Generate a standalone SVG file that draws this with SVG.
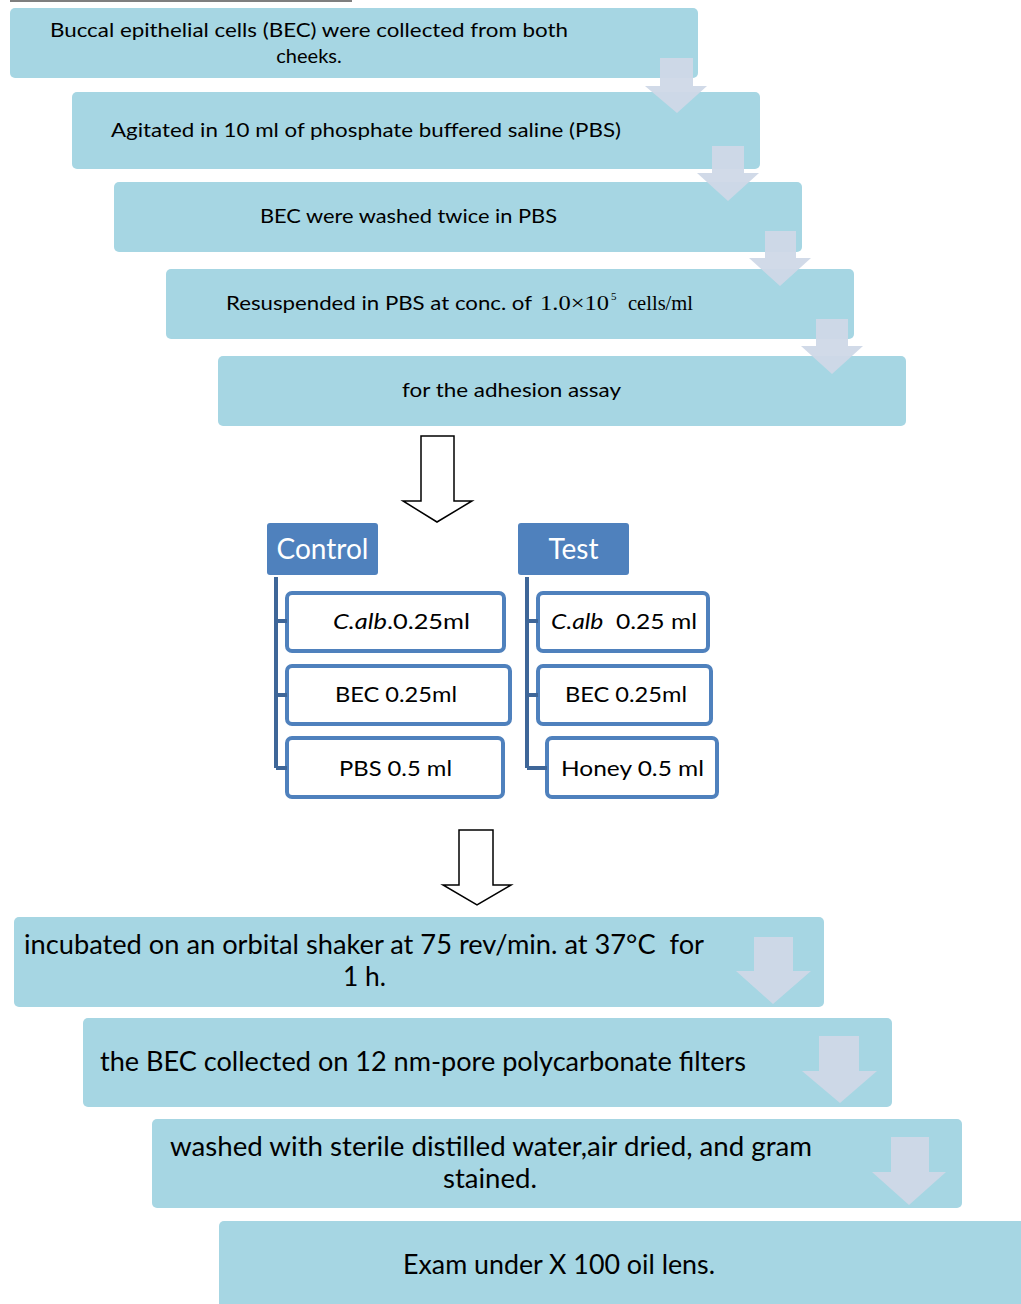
<svg xmlns="http://www.w3.org/2000/svg" width="1021" height="1304" viewBox="0 0 1021 1304">
<style>
.box{fill:#a6d6e3}
.t{font-family:Lato,"Liberation Sans",sans-serif;fill:#000}
.s{font-size:20px}
.b{font-size:26px}
.m{font-size:22px}
.hd{fill:#4f81bd}
.ht{font-family:Lato,"Liberation Sans",sans-serif;font-size:28px;fill:#fff}
.cb{fill:#fff;stroke:#4f81bd;stroke-width:4}
.chev{fill:#cfd8e7;opacity:0.95}
.hol{fill:#fff;stroke:#000;stroke-width:1.5}
.tree{fill:none;stroke:#3e6698;stroke-width:4}
.tm{font-family:"Liberation Serif",serif;font-size:22px;fill:#000}
.sup{font-size:11px}
</style>
<line x1="10" y1="1" x2="352" y2="1" stroke="#555" stroke-width="1.5"/>
<g id="step1"><rect class="box" x="10" y="8" width="688" height="70" rx="5"/>
<text class="t s" x="309" y="37" text-anchor="middle" textLength="518" lengthAdjust="spacingAndGlyphs">Buccal epithelial cells (BEC) were collected from both</text>
<text class="t s" x="309" y="63" text-anchor="middle">cheeks.</text></g>
<g id="step2"><rect class="box" x="72" y="92" width="688" height="77" rx="5"/>
<text class="t s" x="111" y="137" textLength="510" lengthAdjust="spacingAndGlyphs">Agitated in 10 ml of phosphate buffered saline (PBS)</text></g>
<g id="step3"><rect class="box" x="114" y="182" width="688" height="70" rx="5"/>
<text class="t s" x="260" y="223" textLength="297" lengthAdjust="spacingAndGlyphs">BEC were washed twice in PBS</text></g>
<g id="step4"><rect class="box" x="166" y="269" width="688" height="70" rx="5"/>
<text class="t s" x="226" y="310" textLength="306" lengthAdjust="spacingAndGlyphs">Resuspended in PBS at conc. of</text>
<text class="tm" x="540" y="310" textLength="69" lengthAdjust="spacingAndGlyphs">1.0×10</text>
<text class="tm sup" x="611" y="300">5</text>
<text class="tm" x="628" y="310" textLength="65" lengthAdjust="spacingAndGlyphs">cells/ml</text></g>
<g id="step5"><rect class="box" x="218" y="356" width="688" height="70" rx="5"/>
<text class="t s" x="402" y="397" textLength="219" lengthAdjust="spacingAndGlyphs">for the adhesion assay</text></g>

<g id="control"><rect class="hd" x="267" y="523" width="111" height="52" rx="3"/>
<text class="ht" x="322.500" y="559" text-anchor="middle">Control</text></g>
<g id="test"><rect class="hd" x="518" y="523" width="111" height="52" rx="3"/>
<text class="ht" x="573.500" y="559" text-anchor="middle">Test</text></g>

<g id="c1"><rect class="cb" x="287" y="593" width="217" height="58" rx="5"/>
<text class="t m" x="333" y="629" textLength="137" lengthAdjust="spacingAndGlyphs"><tspan font-style="italic">C.alb</tspan>.0.25ml</text></g>
<g id="c2"><rect class="cb" x="287" y="666" width="223" height="58" rx="5"/>
<text class="t m" x="335" y="702" textLength="122" lengthAdjust="spacingAndGlyphs">BEC 0.25ml</text></g>
<g id="c3"><rect class="cb" x="287" y="738" width="216" height="59" rx="5"/>
<text class="t m" x="339" y="776" textLength="113" lengthAdjust="spacingAndGlyphs">PBS 0.5 ml</text></g>
<g id="t1"><rect class="cb" x="538" y="593" width="170" height="58" rx="5"/>
<text class="t m" x="551" y="629" textLength="146" lengthAdjust="spacingAndGlyphs" xml:space="preserve"><tspan font-style="italic">C.alb</tspan>  0.25 ml</text></g>
<g id="t2"><rect class="cb" x="538" y="666" width="173" height="58" rx="5"/>
<text class="t m" x="565" y="702" textLength="122" lengthAdjust="spacingAndGlyphs">BEC 0.25ml</text></g>
<g id="t3"><rect class="cb" x="547" y="738" width="170" height="59" rx="5"/>
<text class="t m" x="561" y="776" textLength="143" lengthAdjust="spacingAndGlyphs">Honey 0.5 ml</text></g>

<g id="step6"><rect class="box" x="14" y="917" width="810" height="90" rx="5"/>
<text class="t b" x="24" y="954" textLength="680" lengthAdjust="spacingAndGlyphs" xml:space="preserve">incubated on an orbital shaker at 75 rev/min. at 37°C  for</text>
<text class="t b" x="343" y="986" textLength="43" lengthAdjust="spacingAndGlyphs">1 h.</text></g>
<g id="step7"><rect class="box" x="83" y="1018" width="809" height="89" rx="5"/>
<text class="t b" x="100" y="1071" textLength="646" lengthAdjust="spacingAndGlyphs">the BEC collected on 12 nm-pore polycarbonate filters</text></g>
<g id="step8"><rect class="box" x="152" y="1119" width="810" height="89" rx="5"/>
<text class="t b" x="170" y="1156" textLength="642" lengthAdjust="spacingAndGlyphs">washed with sterile distilled water,air dried, and gram</text>
<text class="t b" x="443" y="1188" textLength="94" lengthAdjust="spacingAndGlyphs">stained.</text></g>
<g id="step9"><rect class="box" x="219" y="1221" width="830" height="100" rx="5"/>
<text class="t b" x="403" y="1274" textLength="312" lengthAdjust="spacingAndGlyphs">Exam under X 100 oil lens.</text></g>

<g id="connectors">
<polygon class="chev" points="660,58 693,58 693,86 707,86 677,113 645,86 660,86"/>
<polygon class="chev" points="712,146 744,146 744,173 759,173 728,201 697,173 712,173"/>
<polygon class="chev" points="765,231 796,231 796,258 811,258 780,286 749,258 765,258"/>
<polygon class="chev" points="816,319 848,319 848,346 863,346 832,374 801,346 816,346"/>
<polygon class="hol" points="421,436 454,436 454,501 472,501 437,522 403,501 421,501"/>
<path class="tree" d="M276,577 V768 M276,621 H287 M276,695 H287 M276,768 H287"/>
<path class="tree" d="M527,577 V768 M527,621 H538 M527,695 H538 M527,768 H547"/>
<polygon class="hol" points="459,830 493,830 493,885 511,885 477,905 443,885 459,885"/>
<polygon class="chev" points="754,937 793,937 793,971 811,971 773,1004 736,971 754,971"/>
<polygon class="chev" points="819,1036 859,1036 859,1071 877,1071 840,1103 802,1071 819,1071"/>
<polygon class="chev" points="891,1137 929,1137 929,1172 946,1172 909,1205 872,1172 891,1172"/>
</g>
</svg>
